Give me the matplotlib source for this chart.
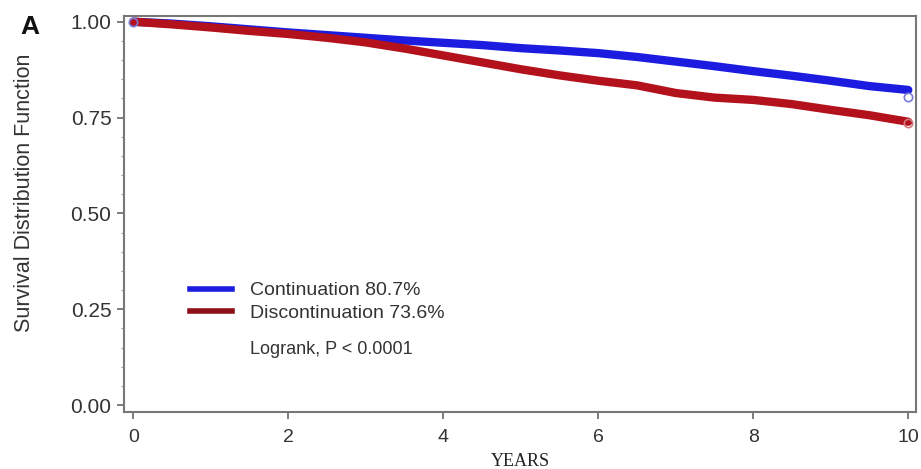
import numpy as np
import matplotlib.pyplot as plt

plt.rcParams['font.family'] = ['Liberation Sans', 'DejaVu Sans']

# ---- data ----
years = [0.0, 0.5, 1.0, 1.5, 2.0, 2.5, 3.0, 3.5, 4.0, 4.5, 5.0, 5.5,
         6.0, 6.5, 7.0, 7.5, 8.0, 8.5, 9.0, 9.5, 10.0]
continuation = [1.000, 0.995, 0.988, 0.980, 0.972, 0.965, 0.958, 0.951, 0.945,
                0.939, 0.931, 0.925, 0.918, 0.908, 0.896, 0.884, 0.871,
                0.859, 0.846, 0.832, 0.822]
discontinuation = [1.000, 0.993, 0.985, 0.976, 0.968, 0.958, 0.946, 0.930, 0.912,
                   0.894, 0.876, 0.860, 0.846, 0.834, 0.814, 0.802, 0.796,
                   0.785, 0.770, 0.756, 0.739]
end_cont = 0.804
end_disc = 0.736

labels = ['Continuation 80.7%', 'Discontinuation 73.6%']
colors = ['#1c1ce0', '#b3121c']
yticks = [0.0, 0.25, 0.5, 0.75, 1.0]
xticks = [0, 2, 4, 6, 8, 10]

fig = plt.figure(figsize=(9.21, 4.69), dpi=100)
ax = fig.add_axes([0.1346, 0.1215, 0.860, 0.8445])

ax.plot(years, continuation, color=colors[0], lw=6, solid_capstyle='round')
ax.plot(years, discontinuation, color=colors[1], lw=6, solid_capstyle='round')
ax.plot([0, 10], [1.0, end_cont], 'o', mfc='none', mec='#7a7ad8', ms=6, mew=1.2)
ax.plot([10], [end_disc], 'o', mfc='none', mec='#d07a80', ms=6, mew=1.2)

# legend handles (drawn thinner than the curves, like the reference)
h1, = ax.plot([], [], color=colors[0], lw=4)
h2, = ax.plot([], [], color='#8e0f18', lw=4)

ax.set_xlim(-0.12, 10.1)
ax.set_ylim(-0.018, 1.015)
ax.set_xticks(xticks)
ax.set_yticks(yticks)
ax.set_yticklabels([f'{v:.2f}' for v in yticks])
ax.set_xticklabels([str(v) for v in xticks])
ax.set_yticks(np.arange(0, 1.01, 0.05), minor=True)
ax.tick_params(axis='y', which='major', labelsize=15, labelcolor='#333333',
               length=5, width=1.2, color='#666666', pad=4)
ax.tick_params(axis='x', which='major', labelsize=14, labelcolor='#333333',
               length=5, width=1.2, color='#666666', pad=7)
ax.tick_params(axis='y', which='minor', length=2, width=0.8, color='#999999')
for s in ax.spines.values():
    s.set_color('#777777')
    s.set_linewidth(1.5)

ax.set_xlabel('YEARS', family='Liberation Serif', fontsize=13, color='#222222',
              labelpad=5)
fig.text(0.027, 0.588, 'Survival Distribution Function', rotation=90,
         fontsize=15.5, color='#333333', ha='center', va='center')
fig.text(0.032, 0.942, 'A', fontweight='bold', fontsize=19, color='#111111',
         ha='center', va='center')

ax.legend([h1, h2], labels, loc='center left', bbox_to_anchor=(0.0833, 0.278),
          frameon=False, fontsize=14, handlelength=2.15, handletextpad=0.93,
          labelspacing=0.25, borderpad=0, borderaxespad=0,
          labelcolor='#333333')
ax.text(0.159, 0.159, 'Logrank, P < 0.0001', transform=ax.transAxes,
        fontsize=13, color='#333333', va='center')

fig.savefig('out.png', dpi=100)
